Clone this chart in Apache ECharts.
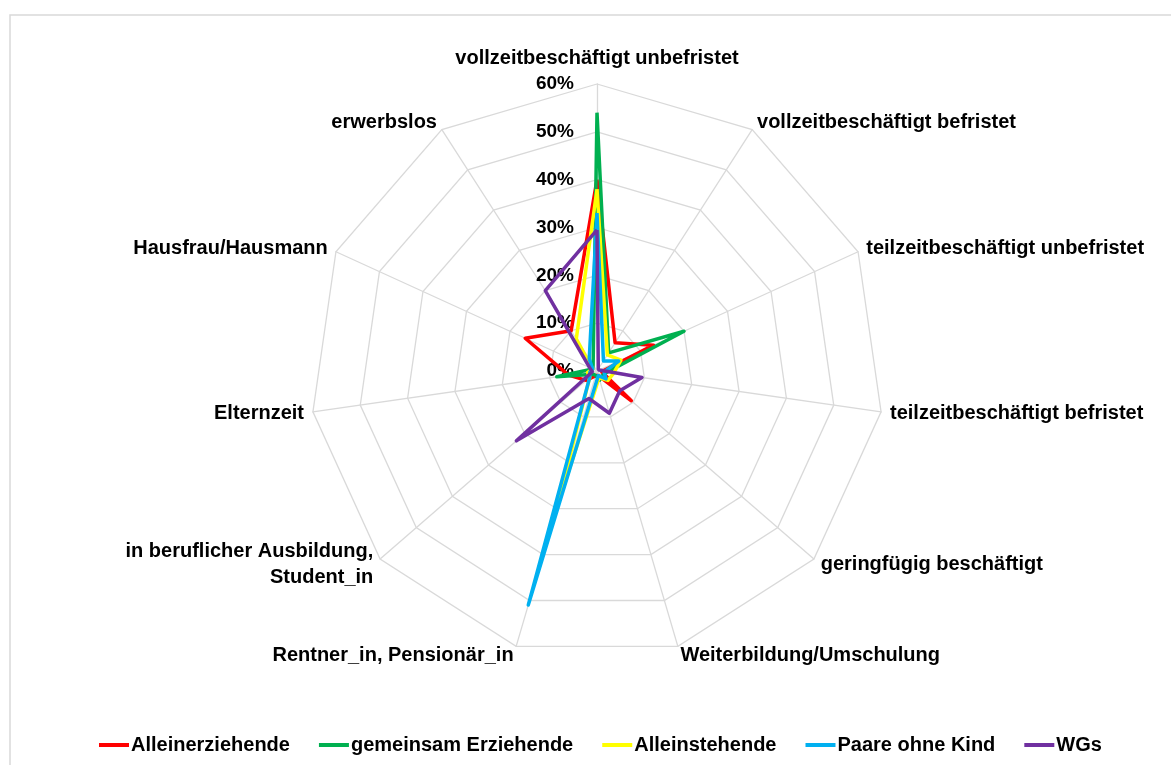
<!DOCTYPE html>
<html>
<head>
<meta charset="utf-8">
<script src="https://cdn.jsdelivr.net/npm/echarts@6/dist/echarts.min.js"></script>
<style>
html,body{margin:0;padding:0;background:#fff;}
#chart{width:1171px;height:765px;}
</style>
</head>
<body>
<div id="chart"></div>
<script>
// Categories in clockwise order starting at the top
const categories = [
  'vollzeitbeschäftigt unbefristet',
  'vollzeitbeschäftigt befristet',
  'teilzeitbeschäftigt unbefristet',
  'teilzeitbeschäftigt befristet',
  'geringfügig beschäftigt',
  'Weiterbildung/Umschulung',
  'Rentner_in, Pensionär_in',
  'in beruflicher Ausbildung,\nStudent_in',
  'Elternzeit',
  'Hausfrau/Hausmann',
  'erwerbslos'
];
const seriesNames = ['Alleinerziehende', 'gemeinsam Erziehende', 'Alleinstehende', 'Paare ohne Kind', 'WGs'];
const alleinerziehende    = [40, 7, 13, 1, 9.5, 1, 1, 3, 6, 16.5, 10];
const gemeinsamErziehende = [54, 4.5, 20, 2, 1.5, 2, 1, 1, 8.5, 1, 1.5];
const alleinstehende      = [38, 4, 5.5, 3.5, 3, 1.5, 30, 2, 2, 1, 8];
const paareOhneKind       = [33, 2.5, 5, 1.5, 2.5, 1, 51, 2, 1.5, 1, 3];
const wgs                 = [29.5, 0.5, 0.5, 9.5, 6.3, 9.2, 6, 22.3, 1, 1.7, 20];
const axisMax = 60;
const tickStep = 10;

const colors = ['#FF0000', '#00B050', '#FFFF00', '#00B0F0', '#7030A0'];
const FONT = '"Liberation Sans", Arial, sans-serif';

// ECharts radar runs counter-clockwise; reorder so the result reads clockwise.
const order = [0];
for (let i = categories.length - 1; i >= 1; i--) order.push(i);
const reorder = arr => order.map(i => arr[i]);

const allData = [alleinerziehende, gemeinsamErziehende, alleinstehende, paareOhneKind, wgs];

const indicator = order.map((idx, k) => {
  const o = { name: categories[idx], min: 0, max: axisMax };
  if (k === 0) {
    o.axisLabel = { show: true };
    o.nameGap = 13;
  }
  return o;
});

const chart = echarts.init(document.getElementById('chart'), null, { renderer: 'canvas' });
chart.setOption({
  animation: false,
  backgroundColor: '#fff',
  color: colors,
  graphic: [{
    type: 'rect',
    shape: { x: 10, y: 15, width: 1300, height: 900 },
    style: { fill: 'none', stroke: '#D9D9D9', lineWidth: 1.5 },
    silent: true,
    z: -10
  }],
  legend: {
    data: seriesNames,
    bottom: 5,
    left: 94,
    icon: 'rect',
    itemWidth: 30,
    itemHeight: 4,
    itemGap: 29,
    textStyle: { fontSize: 20, fontWeight: 'bold', color: '#000', fontFamily: FONT, padding: [0, 0, 0, -3] }
  },
  radar: {
    center: [597, 371],
    radius: 287,
    startAngle: 90,
    shape: 'polygon',
    splitNumber: axisMax / tickStep,
    nameGap: 9,
    axisName: { color: '#000', fontWeight: 'bold', fontSize: 20, fontFamily: FONT, lineHeight: 26 },
    splitLine: { lineStyle: { color: '#D9D9D9', width: 1.3 } },
    splitArea: { show: false },
    axisLine: { lineStyle: { color: '#D9D9D9', width: 1.3 } },
    axisTick: { show: false },
    axisLabel: {
      show: false,
      formatter: v => v + '%',
      color: '#000',
      fontWeight: 'bold',
      fontSize: 19,
      fontFamily: FONT,
      margin: 23
    },
    indicator: indicator
  },
  series: [{
    type: 'radar',
    symbol: 'none',
    data: allData.map((arr, i) => ({
      name: seriesNames[i],
      value: reorder(arr),
      lineStyle: { color: colors[i], width: 3.5 },
      itemStyle: { color: colors[i] }
    }))
  }]
});
</script>
</body>
</html>
